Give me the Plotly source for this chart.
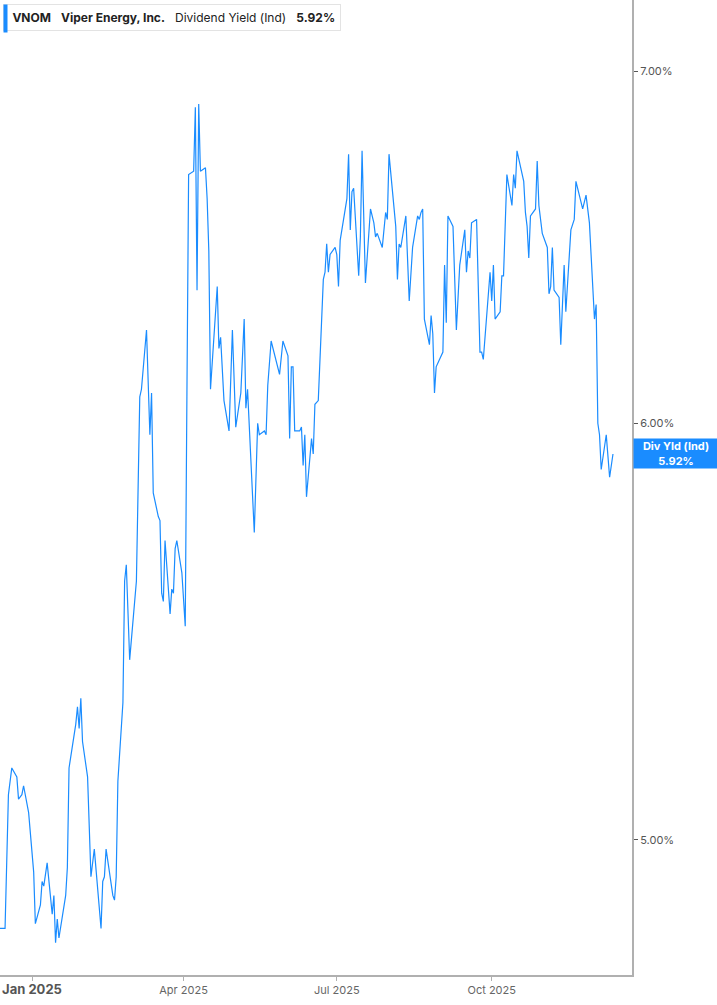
import plotly.graph_objects as go

# VNOM indicated dividend yield (%)
dates = [
    "2024-12-13", "2024-12-16", "2024-12-18", "2024-12-20", "2024-12-23", "2024-12-24",
    "2024-12-26", "2024-12-27", "2024-12-30",
    "2025-01-02", "2025-01-03", "2025-01-06", "2025-01-07", "2025-01-08", "2025-01-10",
    "2025-01-13", "2025-01-14", "2025-01-15", "2025-01-16", "2025-01-17", "2025-01-21",
    "2025-01-22", "2025-01-23", "2025-01-27", "2025-01-28", "2025-01-29", "2025-01-30",
    "2025-01-31",
    "2025-02-03", "2025-02-05", "2025-02-07", "2025-02-11", "2025-02-12", "2025-02-13",
    "2025-02-14", "2025-02-18", "2025-02-19", "2025-02-20", "2025-02-21", "2025-02-24",
    "2025-02-25", "2025-02-26", "2025-02-28",
    "2025-03-04", "2025-03-06", "2025-03-07", "2025-03-10", "2025-03-12", "2025-03-13",
    "2025-03-14", "2025-03-17", "2025-03-18", "2025-03-19", "2025-03-20", "2025-03-21",
    "2025-03-24", "2025-03-25", "2025-03-26", "2025-03-27", "2025-03-28", "2025-03-31",
    "2025-04-02", "2025-04-03", "2025-04-04", "2025-04-07", "2025-04-08", "2025-04-09",
    "2025-04-10", "2025-04-11", "2025-04-14", "2025-04-15", "2025-04-16", "2025-04-17",
    "2025-04-21", "2025-04-22", "2025-04-23", "2025-04-25", "2025-04-28", "2025-04-30",
    "2025-05-02", "2025-05-05", "2025-05-07", "2025-05-08", "2025-05-09", "2025-05-13",
    "2025-05-15", "2025-05-16", "2025-05-19", "2025-05-20", "2025-05-21", "2025-05-23",
    "2025-05-28", "2025-05-30",
    "2025-06-02", "2025-06-03", "2025-06-04", "2025-06-05", "2025-06-06", "2025-06-09",
    "2025-06-10", "2025-06-11", "2025-06-12", "2025-06-13", "2025-06-16", "2025-06-17",
    "2025-06-18", "2025-06-20", "2025-06-23", "2025-06-24", "2025-06-25", "2025-06-26",
    "2025-06-27", "2025-06-30",
    "2025-07-01", "2025-07-02", "2025-07-03", "2025-07-07", "2025-07-08", "2025-07-09",
    "2025-07-10", "2025-07-11", "2025-07-14", "2025-07-15", "2025-07-16", "2025-07-18",
    "2025-07-21", "2025-07-23", "2025-07-24", "2025-07-25", "2025-07-28", "2025-07-30",
    "2025-07-31",
    "2025-08-01", "2025-08-05", "2025-08-06", "2025-08-07", "2025-08-08", "2025-08-11",
    "2025-08-13", "2025-08-15", "2025-08-18", "2025-08-19", "2025-08-20", "2025-08-21",
    "2025-08-22", "2025-08-25", "2025-08-26", "2025-08-27", "2025-08-28", "2025-08-29",
    "2025-09-02", "2025-09-03", "2025-09-04", "2025-09-05", "2025-09-08", "2025-09-10",
    "2025-09-12", "2025-09-15", "2025-09-16", "2025-09-17", "2025-09-18", "2025-09-19",
    "2025-09-22", "2025-09-24", "2025-09-25", "2025-09-26", "2025-09-30",
    "2025-10-01", "2025-10-02", "2025-10-03", "2025-10-06", "2025-10-07", "2025-10-08",
    "2025-10-10", "2025-10-13", "2025-10-14", "2025-10-15", "2025-10-16", "2025-10-20",
    "2025-10-21", "2025-10-22", "2025-10-23", "2025-10-24", "2025-10-27", "2025-10-28",
    "2025-10-29", "2025-10-31",
    "2025-11-03", "2025-11-04", "2025-11-05", "2025-11-06", "2025-11-07", "2025-11-10",
    "2025-11-11", "2025-11-13", "2025-11-14", "2025-11-17", "2025-11-19", "2025-11-20",
    "2025-11-24", "2025-11-26", "2025-11-28",
    "2025-12-01", "2025-12-02", "2025-12-03", "2025-12-04", "2025-12-05", "2025-12-08",
    "2025-12-10", "2025-12-12",
]

div_yield = [
    4.81, 4.81, 5.10, 5.16, 5.14, 5.09,
    5.10, 5.12, 5.06,
    4.93, 4.82, 4.86, 4.91, 4.90, 4.95,
    4.84, 4.88, 4.78, 4.83, 4.79, 4.88,
    4.94, 5.16, 5.26, 5.30, 5.25, 5.32,
    5.22,
    5.14, 4.92, 4.98, 4.81, 4.91, 4.92,
    4.98, 4.88, 4.87, 4.92, 5.13, 5.31,
    5.60, 5.64, 5.41,
    5.60, 6.07, 6.09, 6.25, 5.97, 6.08,
    5.82, 5.76, 5.75, 5.57, 5.55, 5.70,
    5.52, 5.58, 5.57, 5.68, 5.70, 5.62,
    5.49, 6.08, 6.69, 6.70, 6.89, 6.36,
    6.90, 6.70, 6.71, 6.62, 6.47, 6.09,
    6.37, 6.20, 6.23, 6.06, 5.98, 6.25,
    5.99, 6.08, 6.28, 6.04, 6.09, 5.72,
    6.00, 5.97, 5.98, 5.97, 6.10, 6.22,
    6.13, 6.22,
    6.18, 5.96, 6.15, 6.15, 5.98, 5.98,
    5.99, 5.89, 5.97, 5.81, 5.96, 5.92,
    6.05, 6.06, 6.39, 6.41, 6.49, 6.41,
    6.46, 6.48,
    6.46, 6.37, 6.50, 6.62, 6.75, 6.53,
    6.64, 6.65, 6.40, 6.51, 6.76, 6.38,
    6.59, 6.55, 6.51, 6.52, 6.48, 6.58,
    6.56,
    6.75, 6.54, 6.39, 6.49, 6.48, 6.57,
    6.33, 6.48, 6.57, 6.56, 6.58, 6.59,
    6.28, 6.21, 6.29, 6.24, 6.08, 6.15,
    6.19, 6.43, 6.27, 6.57, 6.54, 6.25,
    6.43, 6.53, 6.41, 6.47, 6.45, 6.55,
    6.56, 6.19, 6.19, 6.17, 6.41,
    6.33, 6.43, 6.28, 6.30, 6.40, 6.40,
    6.69, 6.60, 6.69, 6.65, 6.76, 6.67,
    6.58, 6.54, 6.45, 6.57, 6.59, 6.73,
    6.60, 6.52,
    6.48, 6.35, 6.37, 6.48, 6.36, 6.34,
    6.21, 6.43, 6.30, 6.53, 6.56, 6.67,
    6.59, 6.63, 6.55,
    6.28, 6.32, 6.00, 5.97, 5.88, 5.97,
    5.86, 5.92,
]

x_tick_vals = ["2025-01-01", "2025-04-01", "2025-07-01", "2025-10-01"]
x_tick_text = [
    "<span style='font-size:13px;color:#555'><b>Jan 2025</b></span>",
    "Apr 2025", "Jul 2025", "Oct 2025",
]
y_tick_vals = [5, 6, 7]
y_tick_text = ["5.00%", "6.00%", "7.00%"]

last_value = div_yield[-1]
BLUE = "#1a8cff"

fig = go.Figure()
fig.add_trace(go.Scatter(
    x=dates,
    y=div_yield,
    mode="lines",
    line=dict(color=BLUE, width=1.2),
    showlegend=False,
    hoverinfo="skip",
))

fig.update_layout(
    width=717,
    height=1005,
    margin=dict(l=0, r=85, t=0, b=30, pad=0),
    paper_bgcolor="white",
    plot_bgcolor="white",
    font=dict(family="Inter, Roboto, sans-serif", color="#555"),
    xaxis=dict(
        type="date",
        range=["2024-12-13", "2025-12-23 07:00"],
        showgrid=False,
        zeroline=False,
        showline=True,
        linecolor="#b0b0b0",
        linewidth=2,
        ticks="outside",
        ticklen=4,
        tickcolor="#b0b0b0",
        tickvals=x_tick_vals,
        ticktext=x_tick_text,
        tickfont=dict(size=11, color="#666"),
        tickangle=0,
    ),
    yaxis=dict(
        type="log",
        side="right",
        range=[0.67330, 0.85860],
        showgrid=False,
        zeroline=False,
        showline=True,
        linecolor="#b0b0b0",
        linewidth=2,
        ticks="outside",
        ticklen=4,
        tickcolor="#555",
        tickvals=y_tick_vals,
        ticktext=y_tick_text,
        tickfont=dict(size=11, color="#555"),
    ),
)

# header legend box
fig.add_annotation(
    xref="paper", yref="paper", x=0, y=1,
    xanchor="left", yanchor="top",
    xshift=3, yshift=-4,
    text=("&nbsp;<b>VNOM</b>&nbsp;&nbsp;&nbsp;<b>Viper Energy, Inc.</b>&nbsp;&nbsp;&nbsp;"
          "Dividend Yield (Ind)&nbsp;&nbsp;&nbsp;<b>" + f"{last_value:.2f}%" + "</b>"),
    showarrow=False,
    align="left",
    font=dict(size=12, color="#222"),
    bgcolor="white",
    bordercolor="#e3e3e3",
    borderwidth=1,
    borderpad=5,
)
# blue marker bar on the left edge of the header box (drawn after it, so on top)
fig.add_annotation(
    xref="paper", yref="paper", x=0, y=1,
    xanchor="left", yanchor="top",
    xshift=3, yshift=-4,
    text=" ",
    showarrow=False,
    font=dict(size=2),
    width=3, height=27,
    borderpad=0,
    bgcolor=BLUE,
)

# last value badge on the right axis
fig.add_annotation(
    xref="paper", yref="y", x=1, y=0.77232,
    xanchor="left", yanchor="middle", xshift=1,
    text=f"<b>Div Yld (Ind)</b><br><b>{last_value:.2f}%</b>",
    showarrow=False,
    font=dict(size=11, color="white"),
    bgcolor=BLUE,
    width=80, height=25,
    borderpad=2,
    align="center",
)

# page has no body margin so the plot sits flush with the window edge
fig.write_html(
    "out.html",
    config={"displayModeBar": False},
    post_script="document.body.style.margin='0';",
)
